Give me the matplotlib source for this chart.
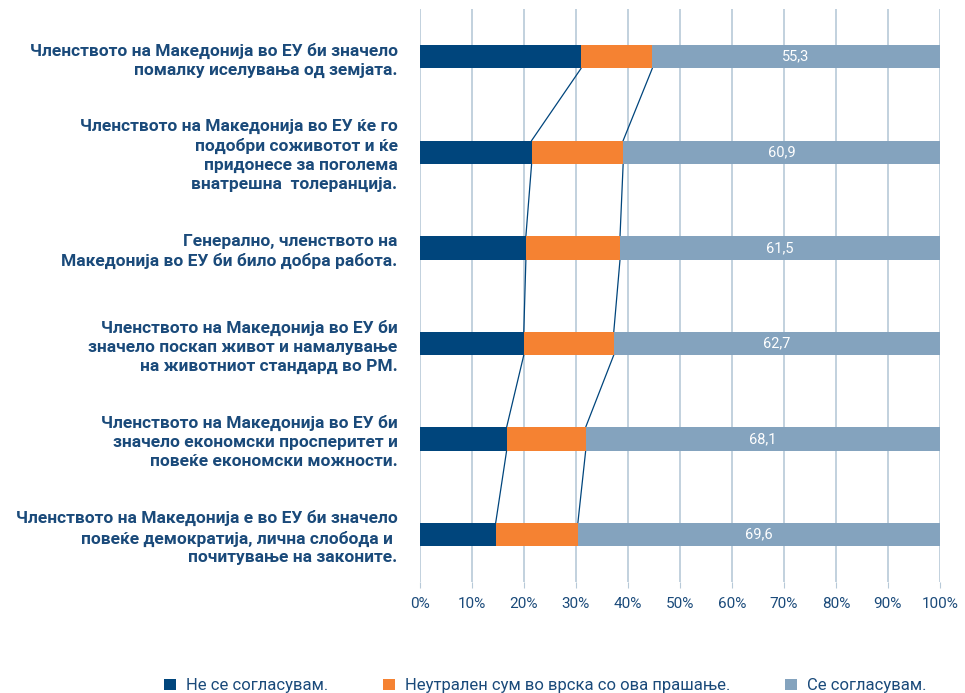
import numpy as np
import matplotlib.pyplot as plt

plt.rcParams['font.family'] = ['Roboto', 'DejaVu Sans']

categories = [
    'Членството на Македонија во ЕУ би значело\nпомалку иселувања од земјата.',
    'Членството на Македонија во ЕУ ќе го\nподобри соживотот и ќе\nпридонесе за поголема\nвнатрешна  толеранција.',
    'Генерално, членството на\nМакедонија во ЕУ би било добра работа.',
    'Членството на Македонија во ЕУ би\nзначело поскап живот и намалување\nна животниот стандард во РМ.',
    'Членството на Македонија во ЕУ би\nзначело економски просперитет и\nповеќе економски можности.',
    'Членството на Македонија е во ЕУ би значело\nповеќе демократија, лична слобода и \nпочитување на законите.',
]
disagree = [31.0, 21.5, 20.4, 20.0, 16.7, 14.6]
neutral = [13.7, 17.6, 18.1, 17.3, 15.2, 15.8]
agree = [55.3, 60.9, 61.5, 62.7, 68.1, 69.6]
series_names = ['Не се согласувам.', 'Неутрален сум во врска со ова прашање.', 'Се согласувам.']

DARK = '#00457C'
ORANGE = '#F58232'
GREY = '#84A3BE'
TXT = '#1A4A7A'
GRID = '#B7C9D8'

fig = plt.figure(figsize=(9.65, 6.93), dpi=100)
ax = fig.add_axes([0.435, 0.160, 0.539, 0.827])

y = np.arange(len(categories))
h = 0.245
d = np.array(disagree)
n = np.array(neutral)
a = np.array(agree)

ax.barh(y, d, height=h, color=DARK, label=series_names[0], zorder=3)
ax.barh(y, n, left=d, height=h, color=ORANGE, label=series_names[1], zorder=3)
ax.barh(y, a, left=d + n, height=h, color=GREY, label=series_names[2], zorder=3)

# series lines between bars
for i in range(len(y) - 1):
    for cum in (d, d + n):
        ax.plot([cum[i], cum[i + 1]], [y[i] + h / 2, y[i + 1] - h / 2],
                color=DARK, lw=0.9, zorder=2)

for i in range(len(y)):
    ax.text(d[i] + n[i] + a[i] / 2, y[i], f'{a[i]:.1f}'.replace('.', ','),
            ha='center', va='center', color='white', fontsize=10.5, zorder=4)

ax.set_xlim(0, 100)
ax.set_ylim(len(y) - 0.5, -0.5)
ax.set_xticks(np.arange(0, 101, 10))
ax.set_xticklabels([f'{v}%' for v in range(0, 101, 10)], color=TXT, fontsize=11)
ax.set_yticks(y)
ax.set_yticklabels(categories, color=TXT, fontsize=12.5, fontweight='bold',
                   linespacing=1.32)
ax.tick_params(axis='y', length=0, pad=16)
ax.tick_params(axis='x', length=4, color=GRID, pad=7)
for lbl in ax.get_yticklabels():
    lbl.set_multialignment('right')

ax.grid(axis='x', color=GRID, lw=1.2, zorder=0)
for s in ax.spines.values():
    s.set_visible(False)

fig.legend(loc='lower center', bbox_to_anchor=(0.565, -0.022), ncol=3,
           frameon=False, fontsize=12, labelcolor=TXT, handlelength=0.7,
           handleheight=0.7, columnspacing=3.3, handletextpad=0.6)

fig.savefig('out.png', dpi=100)
